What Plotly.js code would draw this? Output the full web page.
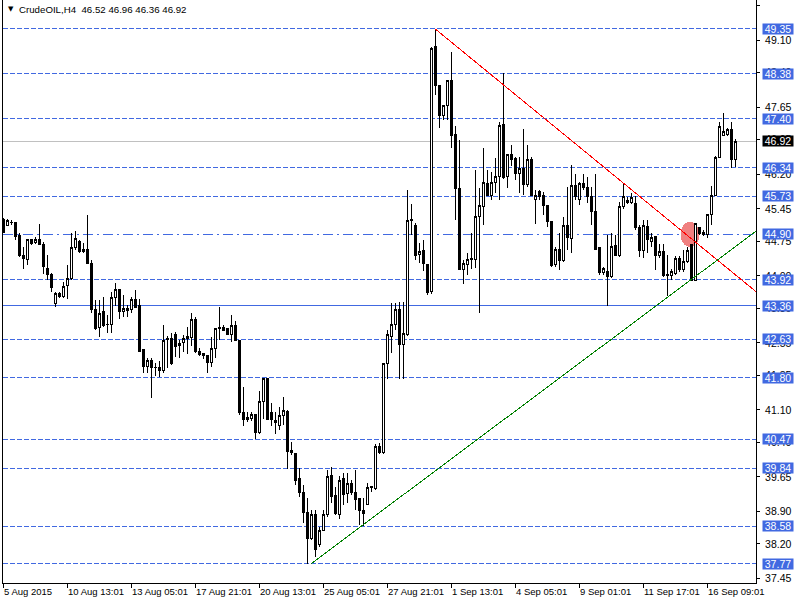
<!DOCTYPE html>
<html>
<head>
<meta charset="utf-8">
<script src="https://cdn.plot.ly/plotly-3.0.1.min.js"></script>
<style>
html,body{margin:0;padding:0;background:#fff;}
#chart{width:800px;height:600px;}
#chart .shapelayer path, #chart .trace path, #chart .xlines-above, #chart .ylines-above, #chart .xtick, #chart .ytick, #chart .crisp {shape-rendering: crispEdges;}
</style>
</head>
<body>
<div id="chart"></div>
<script>
// ---- data ----
const symbolName = "CrudeOIL,H4";
const openP = [45.23,45.09,45.15,45.15,44.88,44.45,44.35,44.78,44.72,44.79,44.68,44.17,44.03,43.41,43.62,43.55,43.79,43.94,44.62,44.75,44.53,44.58,44.27,43.28,42.89,43.23,42.96,42.96,43.54,43.70,43.24,43.29,43.27,43.50,43.36,42.40,42.04,42.18,42.02,42.02,41.95,42.63,42.65,42.74,42.49,42.56,42.65,42.67,43.05,42.36,42.32,42.27,42.12,42.43,42.86,42.89,42.87,42.73,42.92,42.60,41.05,40.94,40.92,41.00,40.61,41.29,41.77,41.05,40.87,40.77,40.99,41.06,40.23,40.16,39.62,39.31,38.88,38.32,38.83,38.18,38.50,38.83,39.69,39.24,38.83,39.62,39.30,39.50,39.31,39.19,38.93,39.06,39.42,39.40,40.31,40.18,42.11,42.69,42.96,43.28,42.51,42.74,45.19,45.10,44.47,44.56,44.25,43.66,48.96,48.12,47.47,47.69,48.22,47.07,45.90,44.13,44.24,44.35,44.35,45.28,45.50,46.01,45.75,46.03,46.16,47.27,46.15,46.62,46.55,46.22,46.33,45.97,46.52,45.66,45.82,45.75,45.53,45.17,44.24,44.58,44.33,45.10,44.81,45.95,45.66,46.01,45.92,45.72,45.39,44.61,44.07,44.09,43.98,44.67,44.45,45.50,45.64,45.59,45.57,45.05,44.56,45.08,44.74,44.85,44.45,44.53,44.04,44.00,44.06,44.38,44.13,44.32,44.68,43.91,45.05,44.94,44.89,45.32,45.75,46.57,47.05,47.06,47.16,46.52];
const highP = [45.26,45.23,45.21,45.16,44.92,44.63,44.81,44.81,44.84,45.13,44.74,44.45,44.06,43.65,43.65,43.88,44.24,44.92,44.97,44.78,44.71,45.32,44.35,43.49,43.48,43.55,43.15,43.66,43.84,43.70,43.59,43.37,43.54,43.70,43.50,42.40,42.22,42.23,42.11,42.15,42.94,42.70,42.76,42.79,42.61,42.72,42.90,43.20,43.12,42.43,42.34,42.29,42.67,42.88,43.33,42.94,42.88,43.15,43.03,42.62,41.59,41.06,41.06,41.01,41.50,41.78,41.78,41.24,41.06,41.17,41.37,41.10,40.41,40.17,39.84,39.48,39.19,38.93,38.93,38.57,38.93,39.80,39.86,39.44,39.66,39.73,39.73,39.58,39.81,39.20,39.19,39.51,39.46,40.36,40.38,42.12,42.82,43.42,43.42,43.44,43.44,45.87,45.56,45.14,44.71,44.78,44.26,48.96,49.35,48.13,47.71,48.23,48.85,47.25,46.94,44.35,44.49,44.92,46.29,45.90,46.76,46.29,46.26,46.55,47.34,48.39,46.65,46.83,46.58,46.58,47.19,46.83,46.58,45.85,45.86,45.82,45.54,45.18,44.63,44.92,45.28,45.93,46.40,46.20,46.03,46.21,46.15,45.93,46.21,44.63,44.20,44.89,44.92,44.89,45.61,46.01,45.70,45.79,45.72,45.10,45.21,45.21,44.92,44.86,44.70,44.69,44.45,44.16,44.43,44.43,44.56,44.63,44.70,45.15,45.07,44.99,45.33,45.95,46.60,47.34,47.52,47.20,47.34,46.96];
const lowP = [44.92,45.08,45.10,44.78,44.42,44.15,44.24,44.67,44.69,44.66,44.04,43.91,43.66,43.32,43.53,43.53,43.50,43.91,44.56,44.49,44.49,44.27,43.19,42.83,42.68,42.90,42.76,42.77,43.35,43.07,43.12,43.12,43.19,43.30,42.36,41.90,41.90,41.36,41.84,41.82,41.89,42.01,42.07,42.25,42.22,42.36,42.32,42.48,42.34,42.27,42.21,41.90,42.03,42.22,42.61,42.80,42.72,42.58,42.59,40.98,40.75,40.83,40.85,40.47,40.57,40.90,40.88,40.76,40.58,40.67,40.77,39.82,40.12,39.48,39.22,38.66,37.77,38.28,37.92,38.14,38.48,38.79,39.08,38.83,38.75,39.04,39.08,39.26,38.93,38.60,38.58,39.04,39.33,39.37,40.15,40.15,41.78,42.33,42.83,41.76,41.78,42.69,44.89,44.35,44.27,44.10,43.59,43.62,47.92,47.20,47.38,47.38,46.76,45.21,44.12,43.83,44.02,44.14,44.17,43.19,45.10,45.73,45.64,45.79,45.64,46.09,45.90,46.37,46.08,45.79,45.75,45.93,45.74,45.12,45.64,45.32,45.07,44.20,44.20,44.13,44.31,44.56,44.49,45.64,45.54,45.87,45.59,45.10,44.56,44.02,44.02,43.34,43.95,44.43,44.42,45.46,45.55,45.55,44.99,44.42,44.38,44.49,44.63,44.13,44.38,43.98,43.57,43.91,44.02,44.09,44.09,44.27,43.90,43.90,44.89,44.86,44.82,45.10,45.72,46.55,47.03,47.02,46.33,46.36];
const closeP = [44.95,45.19,45.16,44.85,44.45,44.37,44.79,44.71,44.79,44.69,44.20,44.03,43.75,43.62,43.55,43.77,43.94,44.62,44.81,44.53,44.58,44.27,43.28,42.87,43.19,42.92,42.95,43.54,43.71,43.23,43.30,43.26,43.50,43.31,42.36,42.04,42.18,42.01,42.01,41.95,42.61,42.65,42.11,42.47,42.54,42.65,42.70,43.05,42.36,42.31,42.27,42.12,42.43,42.87,42.89,42.83,42.73,42.92,42.60,41.04,40.90,40.90,41.00,40.61,41.29,41.77,40.90,40.90,40.82,40.99,41.08,40.21,40.18,39.58,39.31,38.88,38.32,38.83,38.07,38.50,38.83,39.67,39.22,38.86,39.58,39.27,39.51,39.31,39.17,38.92,38.86,39.43,39.44,40.31,40.18,42.11,42.74,42.96,43.28,42.51,42.76,45.19,45.23,44.45,44.54,44.27,43.64,48.93,48.13,47.47,47.70,48.22,47.05,45.90,44.13,44.27,44.35,44.38,45.28,45.52,46.03,45.75,46.03,46.16,47.25,46.13,46.63,46.52,46.22,46.33,45.97,46.52,45.75,45.75,45.72,45.53,45.17,44.22,44.58,44.33,45.10,44.84,45.95,45.72,46.00,45.92,45.72,45.39,44.58,44.07,44.16,43.98,44.63,44.45,45.50,45.72,45.59,45.70,45.05,44.56,45.10,44.78,44.84,44.45,44.53,44.02,44.00,44.09,44.38,44.14,44.32,44.56,43.91,45.13,44.92,44.89,45.32,45.75,46.57,47.23,47.12,47.16,46.51,46.92];

const dashedLevels = [49.35, 48.38, 47.40, 46.34, 45.73, 43.92, 42.63, 41.80, 40.47, 39.84, 38.58, 37.77];
const dashDotLevels = [44.90];
const solidLevels = [43.36];
const currentPrice = 46.92;

const yTickVals = [49.85, 49.10, 48.40, 47.65, 46.95, 46.20, 45.45, 44.75, 44.00, 43.30, 42.55, 41.85, 41.10, 40.40, 39.65, 38.90, 38.20, 37.45];
const xTickBars = [0, 16, 32, 48, 64, 80, 96, 112, 128, 144, 160, 176];
const xTickLabels = ["5 Aug 2015", "10 Aug 13:01", "13 Aug 05:01", "17 Aug 21:01", "20 Aug 13:01", "25 Aug 05:01", "27 Aug 21:01", "1 Sep 13:01", "4 Sep 05:01", "9 Sep 01:01", "11 Sep 17:01", "16 Sep 09:01"];

const redTrendX = [108, 188.25];
const redTrendY = [49.35, 43.66];
const greenTrendX = [77, 188.25];
const greenTrendY = [37.77, 44.97];
const markerCenterX = 171.75;
const markerCenterY = 44.90;

// ---- chart ----
const BLUE = '#4169E1';
const FONT = 'Liberation Sans, DejaVu Sans, sans-serif';
const bars = openP.map((_, i) => i);
const yRange = [37.354, 49.973];
const xRange = [0, 188.25];
const plotHpx = 583;
const pxPerUnitY = plotHpx / (yRange[1] - yRange[0]);
const pxPerBar = 753 / (xRange[1] - xRange[0]);

const traces = [
  {
    type: 'candlestick', x: bars, open: openP, high: highP, low: lowP, close: closeP,
    increasing: {line: {color: '#000', width: 1}, fillcolor: '#fff'},
    decreasing: {line: {color: '#000', width: 1}, fillcolor: '#000'},
    whiskerwidth: 0, hoverinfo: 'skip', showlegend: false
  },
  {type: 'scatter', mode: 'lines', x: redTrendX, y: redTrendY, line: {color: '#FF0000', width: 1}, hoverinfo: 'skip', showlegend: false},
  {type: 'scatter', mode: 'lines', x: greenTrendX, y: greenTrendY, line: {color: '#008000', width: 1}, hoverinfo: 'skip', showlegend: false}
];

const shapes = [];
dashedLevels.forEach(v => shapes.push({type: 'line', xref: 'paper', x0: 0, x1: 1, yref: 'y', y0: v, y1: v, layer: 'below', line: {color: BLUE, width: 1, dash: '5px,2px'}}));
dashDotLevels.forEach(v => shapes.push({type: 'line', xref: 'paper', x0: 0, x1: 1, yref: 'y', y0: v, y1: v, layer: 'below', line: {color: BLUE, width: 1, dash: '10px,4px,2px,4px'}}));
solidLevels.forEach(v => shapes.push({type: 'line', xref: 'paper', x0: 0, x1: 1, yref: 'y', y0: v, y1: v, layer: 'below', line: {color: BLUE, width: 1}}));
shapes.push({type: 'line', xref: 'paper', x0: 0, x1: 1, yref: 'y', y0: currentPrice, y1: currentPrice, layer: 'below', line: {color: '#C0C0C0', width: 1}});
const rxBars = 9.5 / pxPerBar, ryUnits = 12.5 / pxPerUnitY;
shapes.push({type: 'circle', xref: 'x', yref: 'y', x0: markerCenterX - rxBars, x1: markerCenterX + rxBars, y0: markerCenterY - ryUnits, y1: markerCenterY + ryUnits, layer: 'below', fillcolor: '#F08080', line: {width: 0}});

const annotations = [];
const allLevels = dashedLevels.concat(dashDotLevels, solidLevels);
allLevels.forEach(v => annotations.push({
  xref: 'paper', x: 1, xanchor: 'left', xshift: 6, yref: 'y', y: v, yanchor: 'middle',
  text: v.toFixed(2), showarrow: false, bgcolor: BLUE, width: 30, height: 10, borderpad: 0,
  font: {family: FONT, size: 10.5, color: '#fff'}
}));
annotations.push({
  xref: 'paper', x: 1, xanchor: 'left', xshift: 6, yref: 'y', y: currentPrice, yanchor: 'middle',
  text: currentPrice.toFixed(2), showarrow: false, bgcolor: '#000', width: 30, height: 10, borderpad: 0,
  font: {family: FONT, size: 10.5, color: '#fff'}
});
const last = openP.length - 1;
const header = symbolName + '  ' + [openP[last], highP[last], lowP[last], closeP[last]].map(v => v.toFixed(2)).join(' ');
annotations.push({xref: 'paper', yref: 'paper', x: 0, y: 1, xanchor: 'left', yanchor: 'top', xshift: 3, yshift: -3, text: '▼', showarrow: false, font: {family: 'DejaVu Sans', size: 7, color: '#000'}});
annotations.push({xref: 'paper', yref: 'paper', x: 0, y: 1, xanchor: 'left', yanchor: 'top', xshift: 14, yshift: -2, text: header, showarrow: false, font: {family: FONT, size: 9.7, color: '#000'}});

const layout = {
  width: 800, height: 600,
  margin: {l: 3, r: 44, t: 0, b: 17},
  paper_bgcolor: '#fff', plot_bgcolor: '#fff',
  showlegend: false, boxgap: 0.5, boxgroupgap: 0,
  xaxis: {
    range: xRange, rangeslider: {visible: false}, showgrid: false, zeroline: false,
    showline: true, linecolor: '#000', linewidth: 1, ticks: 'outside', ticklen: 4, tickcolor: '#000',
    tickvals: xTickBars, ticktext: xTickLabels, ticklabelposition: 'outside right', tickangle: 0,
    tickfont: {family: FONT, size: 9.5, color: '#000'}, fixedrange: true
  },
  yaxis: {
    range: yRange, side: 'right', showgrid: false, zeroline: false,
    showline: true, mirror: true, linecolor: '#000', linewidth: 1, ticks: 'outside', ticklen: 3, tickcolor: '#000',
    ticklabelstandoff: 3,
    tickvals: yTickVals, tickformat: '.2f', tickfont: {family: FONT, size: 10.5, color: '#000'}, fixedrange: true
  },
  shapes: shapes, annotations: annotations
};

Plotly.newPlot('chart', traces, layout, {staticPlot: true, displayModeBar: false});
</script>
</body>
</html>
